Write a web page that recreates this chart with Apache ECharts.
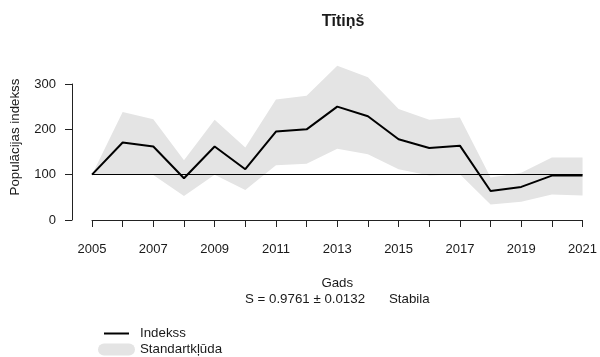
<!DOCTYPE html>
<html>
<head>
<meta charset="utf-8">
<script src="https://cdn.jsdelivr.net/npm/echarts@6/dist/echarts.min.js"></script>
<style>
  html, body { margin: 0; padding: 0; background: #fff; }
  #chart { width: 600px; height: 357px; }
</style>
</head>
<body>
<div id="chart"></div>
<script>
// gadi
const years = [2005, 2006, 2007, 2008, 2009, 2010, 2011, 2012, 2013, 2014, 2015, 2016, 2017, 2018, 2019, 2020, 2021]
// populācijas indekss
const indexVals = [100, 171, 162, 92, 162, 112, 195, 200, 250, 229, 178, 159, 164, 64, 73, 98, 98]
// standartkļūdas robežas
const upperVals = [100, 238, 222, 132, 221, 160, 266, 274, 340, 315, 245, 221, 226, 94, 104, 138, 138]
const lowerVals = [100, 99, 99, 53, 100, 66, 121, 124, 157, 145, 112, 98, 101, 34, 40, 56, 54]
const refLevel = 100
const yTicks = [0, 100, 200, 300]

const font = "'Liberation Sans', Arial, sans-serif"
const ink = '#1a1a1a'
const bandColor = '#e4e4e4'

const chart = echarts.init(document.getElementById('chart'))

// josla starp apakšējo un augšējo robežu
function renderBand(params, api) {
  const pts = []
  years.forEach((y, i) => pts.push(api.coord([y, upperVals[i]])))
  for (let i = years.length - 1; i >= 0; i--) {
    pts.push(api.coord([years[i], lowerVals[i]]))
  }
  return {
    type: 'polygon',
    shape: { points: pts },
    style: { fill: bandColor, stroke: null },
    silent: true
  }
}

const option = {
  animation: false,
  textStyle: { fontFamily: font, color: ink },
  title: [
    {
      text: 'Tītiņš',
      left: 338,
      top: 9,
      textAlign: 'center',
      textStyle: { fontFamily: font, fontSize: 16, fontWeight: 'bold', color: ink }
    },
    {
      text: 'S = 0.9761 ± 0.0132',
      left: 245,
      top: 293,
      padding: 0,
      textStyle: { fontFamily: font, fontSize: 13.3, fontWeight: 'normal', color: ink }
    },
    {
      text: 'Stabila',
      left: 389,
      top: 293,
      padding: 0,
      textStyle: { fontFamily: font, fontSize: 13.3, fontWeight: 'normal', color: ink }
    }
  ],
  legend: [
    {
      data: [{ name: 'Indekss', icon: 'rect' }],
      left: 104,
      top: 327,
      padding: 0,
      itemWidth: 25,
      itemHeight: 2,
      textStyle: { fontFamily: font, fontSize: 13.3, color: ink, padding: [0, 0, 0, 6] }
    },
    {
      data: [{ name: 'Standartkļūda', icon: 'path://M6,0H31A6,6 0 0 1 31,12H6A6,6 0 0 1 6,0Z' }],
      left: 98,
      top: 343,
      padding: 0,
      itemWidth: 37,
      itemHeight: 12,
      textStyle: { fontFamily: font, fontSize: 13.3, color: ink }
    }
  ],
  graphic: [
    {
      type: 'text',
      x: 15,
      y: 137,
      rotation: Math.PI / 2,
      style: {
        text: 'Populācijas indekss',
        fontFamily: font,
        fontSize: 13.3,
        fill: ink,
        textAlign: 'center',
        textVerticalAlign: 'middle'
      }
    }
  ],
  grid: { left: 92, right: 16, top: 84, bottom: 137 },
  xAxis: {
    type: 'value',
    min: years[0],
    max: years[years.length - 1],
    interval: 1,
    offset: 7,
    name: 'Gads',
    nameLocation: 'middle',
    nameGap: 50,
    nameTextStyle: { fontFamily: font, fontSize: 13.3, color: ink },
    axisLine: { show: true, lineStyle: { color: '#222', width: 1 } },
    axisTick: { show: true, length: 7, lineStyle: { color: '#222' } },
    axisLabel: {
      margin: 16,
      fontSize: 13,
      color: ink,
      fontFamily: font,
      showMinLabel: true,
      showMaxLabel: true,
      formatter: (v) => ((v - years[0]) % 2 === 0 ? String(v) : '')
    },
    splitLine: { show: false }
  },
  yAxis: {
    type: 'value',
    min: yTicks[0],
    max: yTicks[yTicks.length - 1],
    interval: 100,
    offset: 20,
    axisLine: { show: true, lineStyle: { color: '#222', width: 1 } },
    axisTick: { show: true, length: 7, lineStyle: { color: '#222' } },
    axisLabel: { margin: 16, fontSize: 13, color: ink, fontFamily: font },
    splitLine: { show: false }
  },
  series: [
    {
      name: 'Standartkļūda',
      type: 'custom',
      renderItem: renderBand,
      data: [0],
      itemStyle: { color: bandColor },
      z: 1,
      silent: true
    },
    {
      name: 'Indekss',
      type: 'line',
      data: years.map((y, i) => [y, indexVals[i]]),
      symbol: 'none',
      color: '#000',
      lineStyle: { color: '#000', width: 2 },
      z: 5,
      markLine: {
        silent: true,
        symbol: 'none',
        label: { show: false },
        lineStyle: { color: '#000', width: 1, type: 'solid' },
        data: [{ yAxis: refLevel }]
      }
    }
  ]
}

chart.setOption(option)
</script>
</body>
</html>
